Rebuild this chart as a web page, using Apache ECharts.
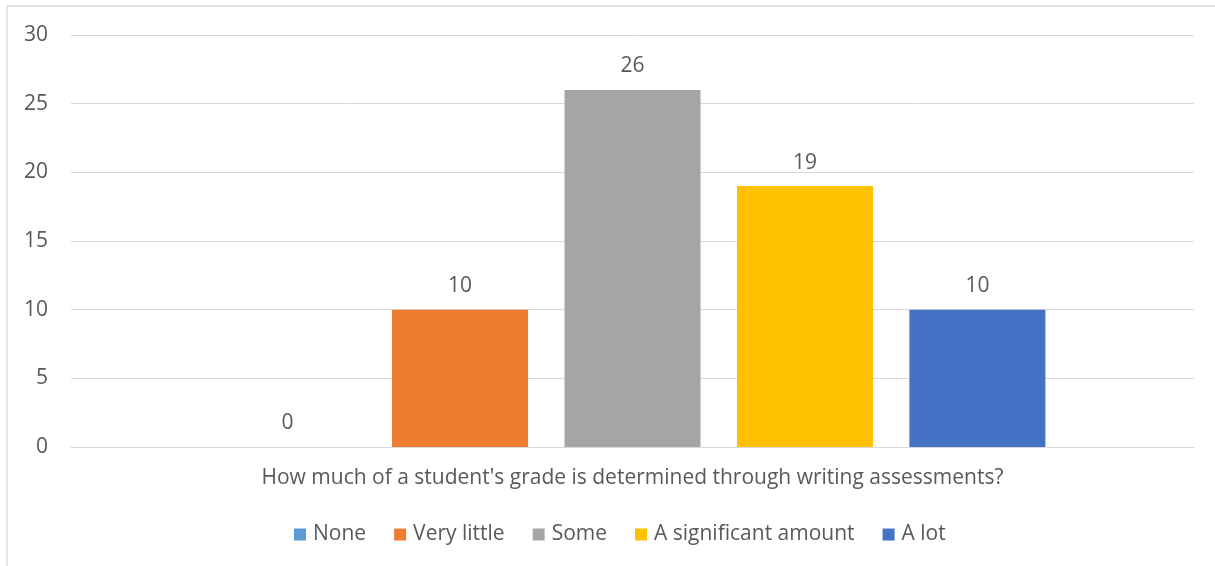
<!DOCTYPE html>
<html>
<head>
<meta charset="utf-8">
<style>
  html, body { margin: 0; padding: 0; background: #fff; }
  #main { width: 1215px; height: 566px; }
</style>
<script src="https://cdn.jsdelivr.net/npm/echarts@6/dist/echarts.min.js"></script>
</head>
<body>
<div id="main"></div>
<script>
var categories = ["How much of a student's grade is determined through writing assessments?"];
var seriesNames = ['None', 'Very little', 'Some', 'A significant amount', 'A lot'];
var seriesValues = [[0], [10], [26], [19], [10]];
var seriesColors = ['#5B9BD5', '#ED7D31', '#A5A5A5', '#FFC000', '#4472C4'];
var yTicks = { min: 0, max: 30, interval: 5 };

var textColor = '#595959';
var font = '"Open Sans", sans-serif';
var fontSize = 21;

var myChart = echarts.init(document.getElementById('main'));

var series = seriesNames.map(function (name, i) {
    return {
        name: name,
        type: 'bar',
        data: seriesValues[i],
        barWidth: 136,
        barGap: '26.8%',
        itemStyle: { color: seriesColors[i] },
        label: {
            show: true,
            position: 'top',
            distance: 13,
            color: textColor,
            fontFamily: font,
            fontSize: fontSize
        }
    };
});

var option = {
    animation: false,
    backgroundColor: '#fff',
    textStyle: { fontFamily: font },
    graphic: [{
        type: 'rect',
        shape: { x: 7, y: 6, width: 1260, height: 620 },
        style: { fill: 'none', stroke: '#D9D9D9', lineWidth: 1.3 },
        silent: true
    }],
    grid: { left: 71, right: 21, top: 35, bottom: 119, containLabel: false },
    legend: {
        data: seriesNames,
        left: 289,
        top: 519,
        icon: 'rect',
        itemWidth: 12,
        itemHeight: 12,
        itemGap: 28,
        textStyle: { color: textColor, fontSize: fontSize, fontFamily: font, padding: [0, 0, 0, 2] }
    },
    xAxis: {
        type: 'category',
        data: categories,
        axisLine: { show: true, lineStyle: { color: '#D9D9D9', width: 1 } },
        axisTick: { show: false },
        axisLabel: { color: textColor, fontSize: fontSize, fontFamily: font, margin: 21 }
    },
    yAxis: {
        type: 'value',
        min: yTicks.min,
        max: yTicks.max,
        interval: yTicks.interval,
        axisLine: { show: false },
        axisTick: { show: false },
        axisLabel: { color: textColor, fontSize: fontSize, fontFamily: font, margin: 23 },
        splitLine: { lineStyle: { color: '#D9D9D9', width: 1 } }
    },
    series: series
};

myChart.setOption(option);
window.addEventListener('resize', function () {
    myChart.resize();
});
</script>
</body>
</html>
